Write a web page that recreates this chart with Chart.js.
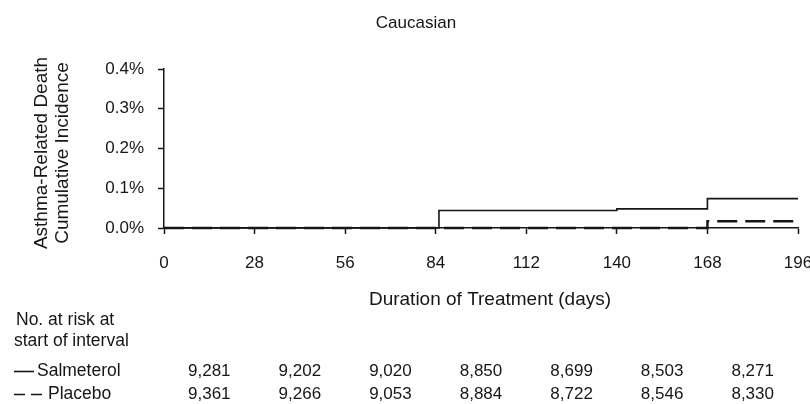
<!DOCTYPE html>
<html><head><meta charset="utf-8">
<script src="https://cdn.jsdelivr.net/npm/chart.js@4.4.1/dist/chart.umd.min.js"></script>
<style>html,body{margin:0;padding:0;background:#fff}#wrap{width:810px;height:404px;position:relative}</style>
</head><body><div id="wrap"><canvas id="c" width="810" height="404"></canvas></div>
<script>
const titleText = 'Caucasian';
const yAxisTitle = ['Asthma-Related Death', 'Cumulative Incidence'];
const xAxisTitle = 'Duration of Treatment (days)';
const xTicks = [0, 28, 56, 84, 112, 140, 168, 196];
const yTicks = [0, 0.1, 0.2, 0.3, 0.4];
const seriesNames = ['Salmeterol', 'Placebo'];
const salmeterolDays = [0, 85, 140, 168, 196];
const salmeterolPct = [0, 0.044, 0.048, 0.074, 0.074];
const placeboDays = [0, 168, 196];
const placeboPct = [0, 0.017, 0.017];
const riskHeader = ['No. at risk at', 'start of interval'];
const riskIntervalMid = [14, 42, 70, 98, 126, 154, 182];
const salmeterolAtRisk = ['9,281', '9,202', '9,020', '8,850', '8,699', '8,503', '8,271'];
const placeboAtRisk = ['9,361', '9,266', '9,053', '8,884', '8,722', '8,546', '8,330'];

const FONT = "'Liberation Sans', Arial, sans-serif";
const INK = '#161616';

const toPoints = (xs, ys) => xs.map((x, i) => ({ x: x, y: ys[i] }));

const extraText = {
  id: 'extraText',
  afterDraw(chart) {
    const ctx = chart.ctx;
    const xs = chart.scales.x;
    ctx.save();
    ctx.fillStyle = INK;
    ctx.textBaseline = 'middle';
    // title
    ctx.font = '17px ' + FONT;
    ctx.textAlign = 'center';
    ctx.fillText(titleText, 416, 23);
    // x axis title
    ctx.font = '19px ' + FONT;
    ctx.fillText(xAxisTitle, 490, 300);
    // y axis title
    [42, 63].forEach((cx, i) => {
      ctx.save();
      ctx.translate(cx, 153);
      ctx.rotate(-Math.PI / 2);
      ctx.textAlign = 'center';
      ctx.fillText(yAxisTitle[i], 0, 0);
      ctx.restore();
    });
    // risk table header
    ctx.font = '17.5px ' + FONT;
    ctx.textAlign = 'left';
    ctx.fillText(riskHeader[0], 16, 320);
    ctx.fillText(riskHeader[1], 14, 341);
    // row labels with line-style keys
    ctx.strokeStyle = INK;
    ctx.lineWidth = 1.6;
    ctx.beginPath();
    ctx.moveTo(14, 371.5); ctx.lineTo(34, 371.5);
    ctx.stroke();
    ctx.beginPath();
    ctx.moveTo(14, 394.5); ctx.lineTo(25, 394.5);
    ctx.moveTo(31, 394.5); ctx.lineTo(42, 394.5);
    ctx.stroke();
    ctx.fillText(seriesNames[0], 37, 371);
    ctx.fillText(seriesNames[1], 48, 394);
    // numbers at risk, centred on each 28-day interval
    ctx.font = '17px ' + FONT;
    ctx.textAlign = 'center';
    riskIntervalMid.forEach((d, i) => {
      const px = xs.getPixelForValue(d);
      ctx.fillText(salmeterolAtRisk[i], px, 371);
      ctx.fillText(placeboAtRisk[i], px, 394);
    });
    ctx.restore();
  }
};

new Chart(document.getElementById('c'), {
  type: 'line',
  data: {
    datasets: [
      {
        label: seriesNames[0],
        data: toPoints(salmeterolDays, salmeterolPct),
        stepped: true,
        borderColor: INK,
        borderWidth: 1.6,
        pointRadius: 0,
        fill: false,
        clip: false
      },
      {
        label: seriesNames[1],
        data: toPoints(placeboDays, placeboPct),
        stepped: true,
        borderColor: INK,
        borderWidth: 2.4,
        borderDash: [20, 8],
        pointRadius: 0,
        fill: false,
        clip: false
      }
    ]
  },
  options: {
    responsive: false,
    devicePixelRatio: 1,
    animation: false,
    layout: { padding: { top: 69, right: 12, bottom: 0, left: 0 } },
    plugins: { legend: { display: false }, title: { display: false }, tooltip: { enabled: false } },
    scales: {
      x: {
        type: 'linear',
        min: 0, max: 196,
        afterBuildTicks: s => { s.ticks = xTicks.map(v => ({ value: v })); },
        ticks: { color: INK, font: { family: FONT, size: 17 }, padding: 19, maxRotation: 0, autoSkip: false },
        grid: { drawOnChartArea: false, drawTicks: true, tickLength: 6, tickColor: INK, tickWidth: 1.5 },
        border: { color: INK, width: 1.5 },
        afterFit: s => { s.height = 176; s.paddingLeft = 0; s.paddingRight = 0; }
      },
      y: {
        min: 0, max: 0.4,
        afterBuildTicks: s => { s.ticks = yTicks.map(v => ({ value: v })); },
        ticks: { color: INK, font: { family: FONT, size: 17 }, padding: 14, callback: v => v.toFixed(1) + '%' },
        grid: { drawOnChartArea: false, drawTicks: true, tickLength: 6, tickColor: INK, tickWidth: 1.5 },
        border: { color: INK, width: 1.5 },
        afterFit: s => { s.width = 164; s.paddingTop = 0; s.paddingBottom = 0; }
      }
    }
  },
  plugins: [extraText]
});
</script>
</body></html>
